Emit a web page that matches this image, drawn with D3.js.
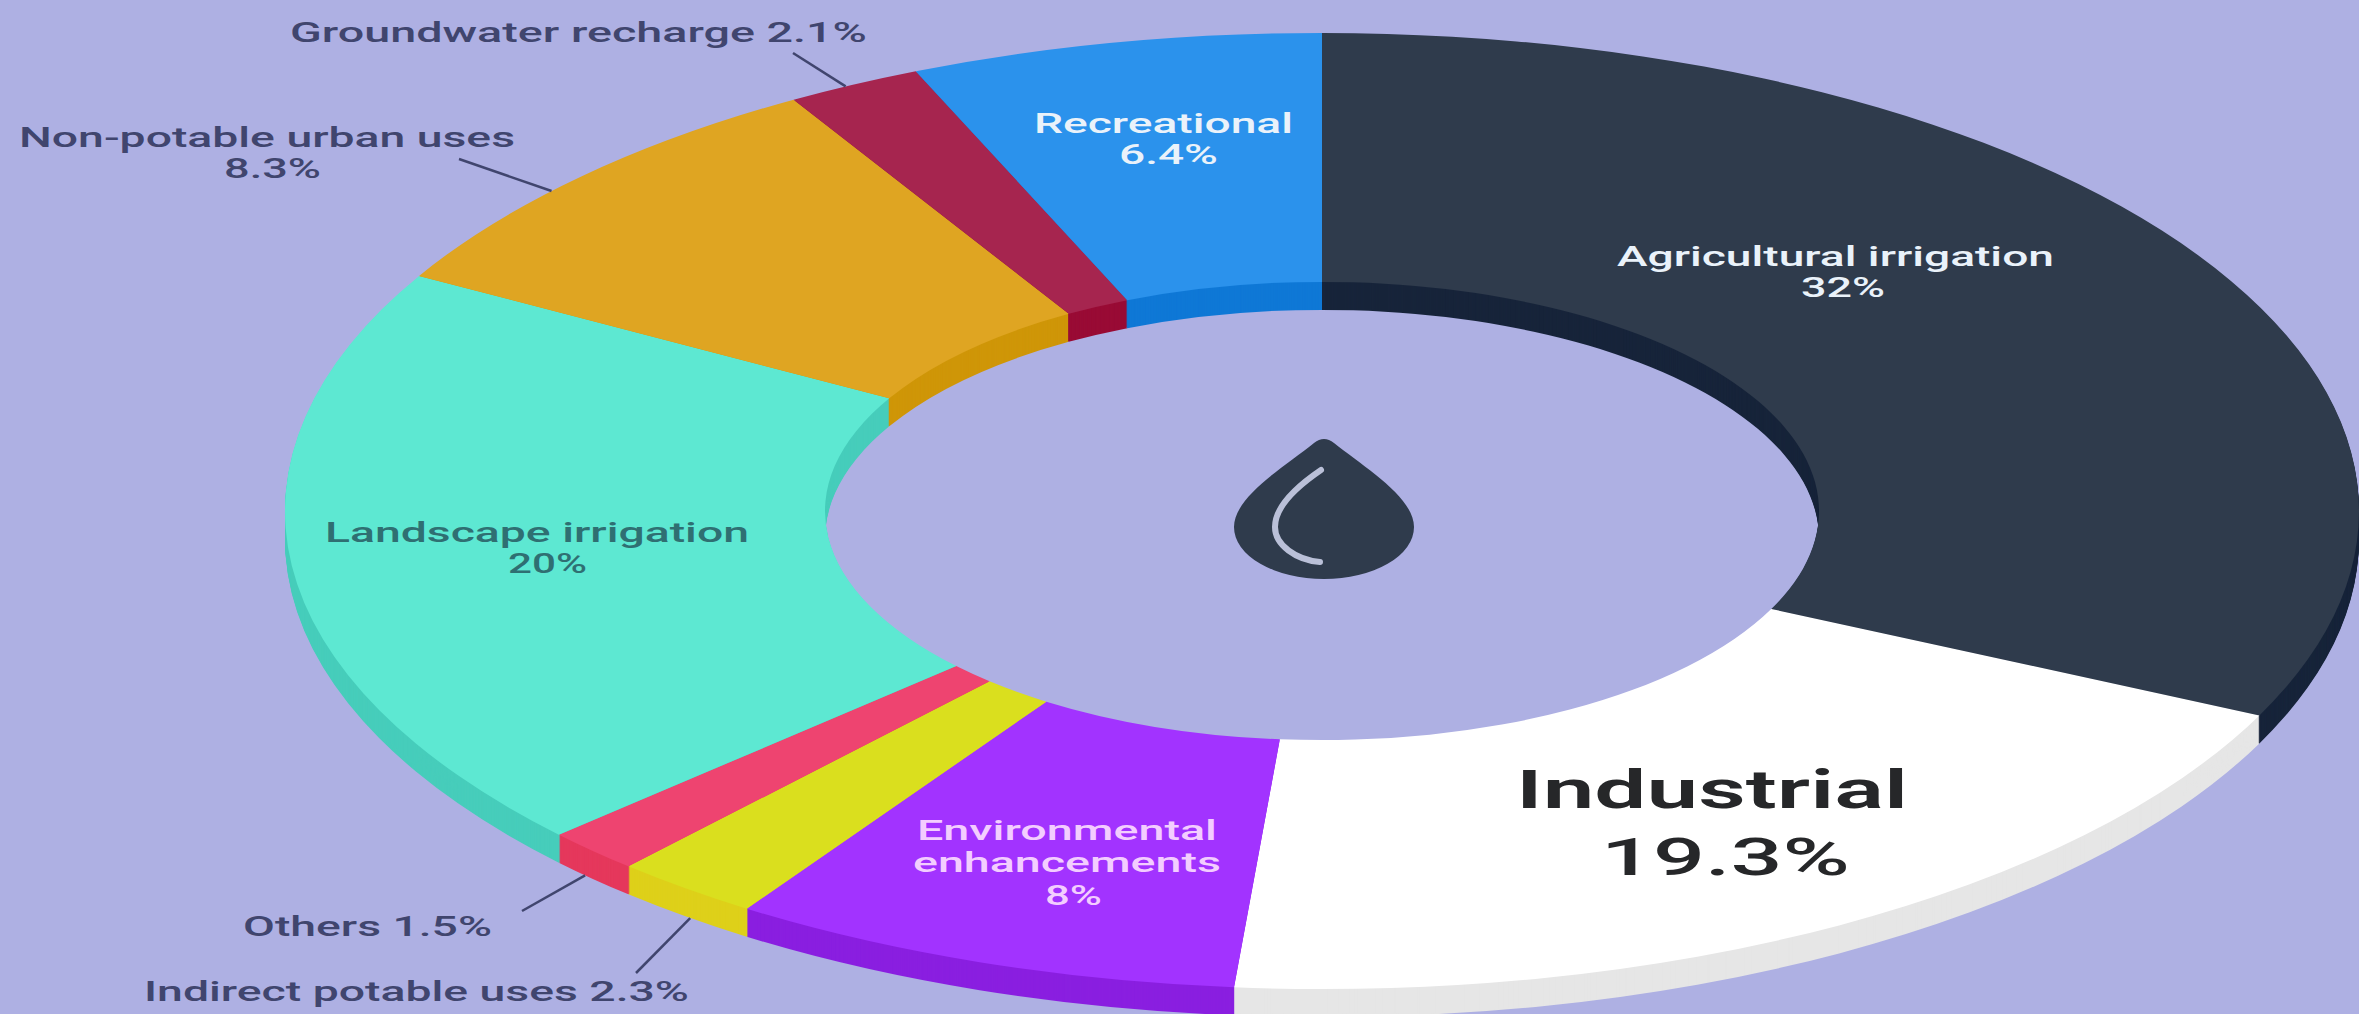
<!DOCTYPE html>
<html>
<head>
<meta charset="utf-8">
<script src="https://cdn.jsdelivr.net/npm/d3@7/dist/d3.min.js"></script>
<style>
  html, body { margin: 0; padding: 0; background: #AEB0E3; overflow: hidden; }
  svg { display: block; }
  text { font-family: Roboto, sans-serif; }
</style>
</head>
<body>
<svg id="chart" width="2359" height="1014"></svg>
<script>
// Water reuse by end use, in percent, clockwise from twelve o'clock
const categories = [
  "Agricultural irrigation", "Industrial", "Environmental enhancements",
  "Indirect potable uses", "Others", "Landscape irrigation",
  "Non-potable urban uses", "Groundwater recharge", "Recreational"
];
const shares = [32, 19.3, 8, 2.3, 1.5, 20, 8.3, 2.1, 6.4];
const faceColors = ["#2F3B4C", "#FFFFFF", "#A233FF", "#DADF1E", "#EE4470", "#5DE8D2", "#DFA522", "#A6254F", "#2B92EC"];
const sideColors = ["#17243A", "#E6E6E6", "#8A1FE0", "#DED01A", "#E5385C", "#47CDBB", "#CF9608", "#990B35", "#0F78D6"];

// Ring geometry: a flat donut squashed vertically and extruded downward
const cx = 1322, cy = 511, outerR = 1037, innerR = 497, tilt = 0.461, depth = 28;

// Text rows: [category index, string, left, right, baseline, size, weight, colour]
const inkOutside = "#40456E", inkLight = "#EAF2FA", inkTeal = "#2F6F72", inkPink = "#F3CDFF", inkDark = "#262729";
const textRows = [
  [0, "Agricultural irrigation", 1617, 2054, 266, 27, 500, inkLight],
  [0, "32%", 1801, 1885, 297, 27, 500, inkLight],
  [1, "Industrial", 1516, 1908, 808, 54, 600, inkDark],
  [1, "19.3%", 1601, 1850, 875, 52, 500, inkDark],
  [2, "Environmental", 917, 1217, 840, 27, 500, inkPink],
  [2, "enhancements", 913, 1221, 872, 27, 500, inkPink],
  [2, "8%", 1045, 1102, 905, 27, 500, inkPink],
  [3, "Indirect potable uses 2.3%", 144, 689, 1001, 27, 500, inkOutside],
  [4, "Others 1.5%", 243, 492, 936, 27, 500, inkOutside],
  [5, "Landscape irrigation", 325, 749, 542, 27, 500, inkTeal],
  [5, "20%", 508, 587, 573, 27, 500, inkTeal],
  [6, "Non-potable urban uses", 19, 515, 147, 27, 500, inkOutside],
  [6, "8.3%", 224, 321, 178, 27, 500, inkOutside],
  [7, "Groundwater recharge 2.1%", 290, 867, 42, 27, 500, inkOutside],
  [8, "Recreational", 1034, 1293, 133, 27, 500, inkLight],
  [8, "6.4%", 1119, 1218, 164, 27, 500, inkLight]
];

// Leader lines: [category index, free end x, free end y, lift onto rim side?, angular nudge in degrees]
const leaders = [
  [3, 636, 973, true, -0.3],
  [4, 522, 911, true, 0.6],
  [6, 459, 159, false, -2.4],
  [7, 793, 53, false, -0.5]
];

const svg = d3.select("#chart");

const slices = d3.pie().sort(null).value(d => d)(shares);
const arc = d3.arc().innerRadius(innerR).outerRadius(outerR);

// Extruded wall: stacked copies of the ring, deepest first
const wall = svg.append("g");
d3.range(depth, 0, -1).forEach(offset => {
  wall.append("g")
    .attr("transform", `translate(${cx},${cy + offset}) scale(1,${tilt})`)
    .selectAll("path")
    .data(slices)
    .join("path")
    .attr("d", arc)
    .attr("fill", (d, i) => sideColors[i]);
});

// Top face of the ring
svg.append("g")
  .attr("transform", `translate(${cx},${cy}) scale(1,${tilt})`)
  .selectAll("path")
  .data(slices)
  .join("path")
  .attr("d", arc)
  .attr("fill", (d, i) => faceColors[i]);

// Leader lines run from the label to the rim at the middle of the slice
svg.append("g")
  .selectAll("line")
  .data(leaders)
  .join("line")
  .each(function (row) {
    const s = slices[row[0]];
    const a = (s.startAngle + s.endAngle) / 2 + row[4] * Math.PI / 180;
    const [px, py] = d3.pointRadial(a, outerR);
    d3.select(this)
      .attr("x1", row[1]).attr("y1", row[2])
      .attr("x2", cx + px)
      .attr("y2", cy + py * tilt + (row[3] ? depth : 0));
  })
  .attr("stroke", "#40456E")
  .attr("stroke-width", 2.5);

// Labels are stretched to their row's width
svg.append("g")
  .selectAll("text")
  .data(textRows)
  .join("text")
  .attr("x", d => d[2])
  .attr("y", d => d[4])
  .attr("textLength", d => d[3] - d[2])
  .attr("lengthAdjust", "spacingAndGlyphs")
  .attr("font-size", d => d[5])
  .attr("font-weight", d => d[6])
  .attr("fill", d => d[7])
  .text(d => d[1]);

// Water drop in the hole of the ring
const drop = svg.append("g").attr("transform", "translate(1324,527)");
drop.append("path")
  .attr("d", "M-10,-84 Q0,-92 10,-84 C40,-60 90,-30 90,0 A90,52 0 0 1 -90,0 C-90,-30 -40,-60 -10,-84 Z")
  .attr("fill", "#2F3B4C");
drop.append("path")
  .attr("d", "M-3,-57 C-28,-40 -49,-20 -49,0 C-49,18 -28,33 -4,35")
  .attr("fill", "none")
  .attr("stroke", "#BAC0D8")
  .attr("stroke-width", 6)
  .attr("stroke-linecap", "round");
</script>
</body>
</html>
